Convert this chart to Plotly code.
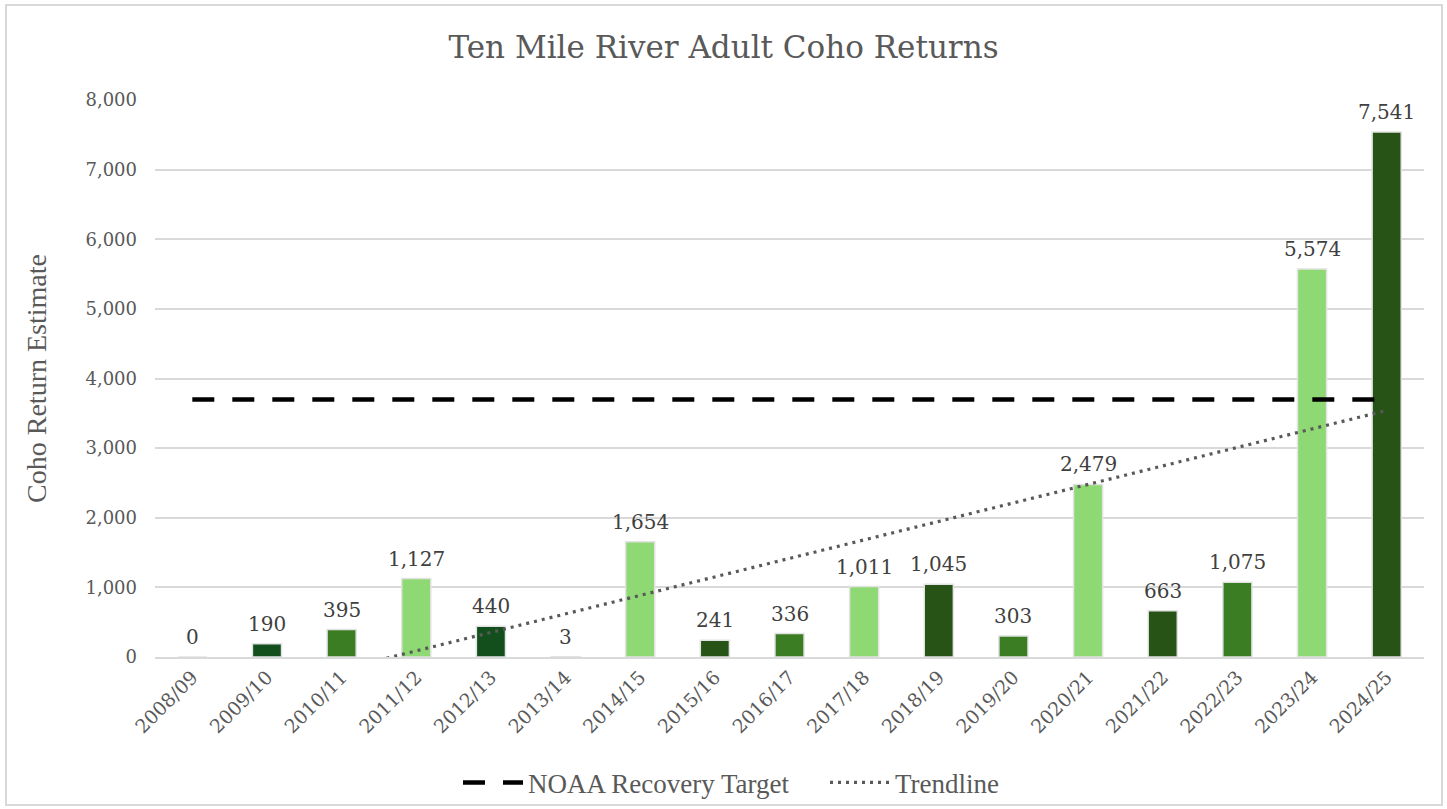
import numpy as np
import plotly.graph_objects as go

seasons = ["2008/09", "2009/10", "2010/11", "2011/12", "2012/13", "2013/14", "2014/15",
           "2015/16", "2016/17", "2017/18", "2018/19", "2019/20", "2020/21", "2021/22",
           "2022/23", "2023/24", "2024/25"]
returns = [0, 190, 395, 1127, 440, 3, 1654, 241, 336, 1011, 1045, 303, 2479, 663, 1075, 5574, 7541]
bar_colors = ["#8ED973", "#134F1C", "#3B7D23", "#8ED973", "#134F1C", "#3B7D23", "#8ED973",
              "#275317", "#3B7D23", "#8ED973", "#275317", "#3B7D23", "#8ED973", "#275317",
              "#3B7D23", "#8ED973", "#275317"]
target_value = 3700
y_ticks = [0, 1000, 2000, 3000, 4000, 5000, 6000, 7000, 8000]

serif = "Liberation Serif"
numfont = "DejaVu Serif"
gray = "#595959"

x_idx = np.arange(len(seasons))
slope, intercept = np.polyfit(x_idx, returns, 1)
trend = slope * x_idx + intercept

fig = go.Figure()
fig.add_trace(go.Bar(
    x=seasons, y=returns,
    marker=dict(color=bar_colors, line=dict(color="#E3E3E3", width=1.5)),
    showlegend=False, hoverinfo="x+y",
))
fig.add_trace(go.Scatter(
    x=seasons, y=[target_value] * len(seasons), mode="lines",
    name="NOAA Recovery Target",
    line=dict(color="black", width=4.5, dash="22px,18px"),
))
fig.add_trace(go.Scatter(
    x=seasons, y=trend, mode="lines", name="Trendline",
    line=dict(color=gray, width=3.2, dash="3px,5px"),
))

annotations = [
    dict(x=s, y=v, xref="x", yref="y", text=f"{v:,}", showarrow=False,
         yanchor="middle", yshift=20,
         font=dict(family=numfont, size=20, color="#404040"))
    for s, v in zip(seasons, returns)
]

fig.update_layout(
    width=1447, height=809,
    paper_bgcolor="white", plot_bgcolor="white",
    margin=dict(l=155, r=23, t=100, b=152, autoexpand=False),
    bargap=0.61,
    title=dict(text="Ten Mile River Adult Coho Returns", x=0.5, xref="container",
               xanchor="center", y=0.942, yanchor="middle",
               font=dict(family=numfont, size=31, color=gray)),
    xaxis=dict(tickangle=-45, tickfont=dict(family=numfont, size=19, color=gray),
               showgrid=False, showline=True, linecolor="#D9D9D9", linewidth=1.5,
               ticks="", automargin=False),
    yaxis=dict(range=[0, 8000], tickvals=y_ticks, tickformat=",",
               tickfont=dict(family=numfont, size=18, color=gray),
               gridcolor="#D9D9D9", gridwidth=1.5, zeroline=False, ticks="",
               ticklabelstandoff=17, automargin=False,
               title=dict(text="Coho Return Estimate", standoff=30,
                          font=dict(family=serif, size=28, color=gray))),
    legend=dict(orientation="h", x=(458 - 155) / 1269, xanchor="left", xref="paper",
                y=-0.226, yanchor="middle", bgcolor="rgba(0,0,0,0)",
                font=dict(family=serif, size=27, color=gray),
                itemwidth=60, tracegroupgap=0,
                entrywidth=292, entrywidthmode="pixels"),
    annotations=annotations,
    shapes=[dict(type="rect", xref="paper", yref="paper",
                 x0=-149/1269, x1=1+18/1269, y0=-148/557, y1=1+95/557,
                 line=dict(color="#D9D9D9", width=2), fillcolor="rgba(0,0,0,0)",
                 layer="below")],
)

fig.write_html("out.html", config={"displayModeBar": False},
               post_script="document.body.style.margin='0';")
